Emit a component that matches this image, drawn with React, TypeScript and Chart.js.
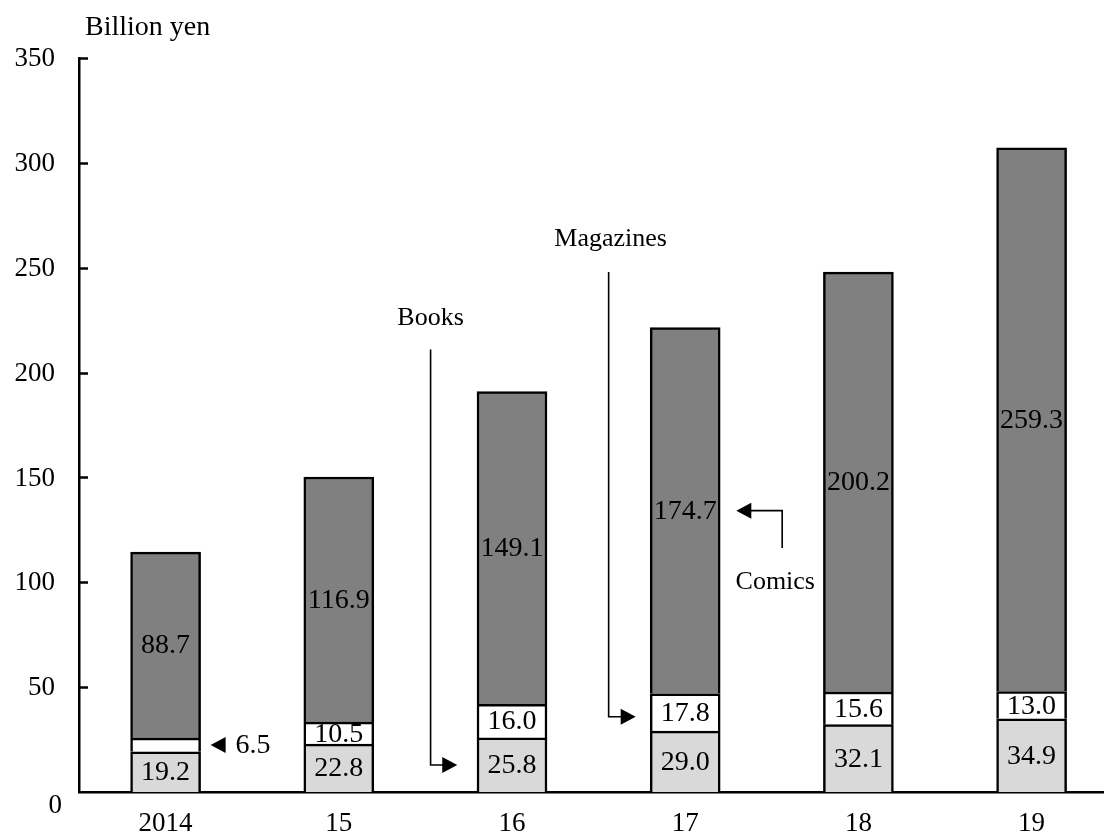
import React, { useEffect, useRef } from "react";
import { Chart, registerables } from "chart.js";

Chart.register(...registerables);

// ---- Data ----
const categories = ["2014", "15", "16", "17", "18", "19"];
const books = [19.2, 22.8, 25.8, 29.0, 32.1, 34.9];
const magazines = [6.5, 10.5, 16.0, 17.8, 15.6, 13.0];
const comics = [88.7, 116.9, 149.1, 174.7, 200.2, 259.3];
const yTickValues = [0, 50, 100, 150, 200, 250, 300, 350];
const unitLabel = "Billion yen";
const seriesNames = ["Books", "Magazines", "Comics"];

const FONT = '"Liberation Serif", "Times New Roman", serif';

function arrowHead(ctx: CanvasRenderingContext2D, tipX: number, tipY: number, dir: number) {
  // dir: 1 => pointing right, -1 => pointing left
  const len = 15;
  const half = 8;
  ctx.beginPath();
  ctx.moveTo(tipX, tipY);
  ctx.lineTo(tipX - dir * len, tipY - half);
  ctx.lineTo(tipX - dir * len, tipY + half);
  ctx.closePath();
  ctx.fill();
}

const decorPlugin = {
  id: "decor",
  afterDatasetsDraw(chart: any) {
    const ctx: CanvasRenderingContext2D = chart.ctx;
    ctx.save();
    ctx.fillStyle = "#000";
    ctx.font = `28px ${FONT}`;
    ctx.textAlign = "center";
    ctx.textBaseline = "middle";
    chart.data.datasets.forEach((ds: any, di: number) => {
      const meta = chart.getDatasetMeta(di);
      meta.data.forEach((el: any, i: number) => {
        if (di === 1 && i === 0) return; // drawn outside with arrow
        const v = ds.data[i].y;
        const cy = (el.y + el.base) / 2;
        ctx.fillText(v.toFixed(1), el.x, cy + 1);
      });
    });
    ctx.restore();
  },
  afterDraw(chart: any) {
    const ctx: CanvasRenderingContext2D = chart.ctx;
    const xs = chart.scales.x;
    const ys = chart.scales.y;
    const area = chart.chartArea;
    ctx.save();
    ctx.strokeStyle = "#000";
    ctx.fillStyle = "#000";

    // y tick marks (inward)
    ctx.lineWidth = 2.5;
    yTickValues.forEach((v) => {
      if (v === 0) return;
      const y = Math.round(ys.getPixelForValue(v)) + 0.5;
      ctx.beginPath();
      ctx.moveTo(area.left, y);
      ctx.lineTo(area.left + 9, y);
      ctx.stroke();
    });

    // y tick labels
    ctx.font = `27px ${FONT}`;
    ctx.textAlign = "right";
    ctx.textBaseline = "middle";
    yTickValues.forEach((v) => {
      const y = ys.getPixelForValue(v);
      if (v === 0) ctx.fillText(String(v), area.left - 17, y + 14);
      else ctx.fillText(String(v), area.left - 24, y + 1);
    });

    // x labels
    ctx.textAlign = "center";
    categories.forEach((c, i) => {
      ctx.fillText(c, xs.getPixelForValue(i), area.bottom + 32);
    });

    // unit label
    ctx.font = `28px ${FONT}`;
    ctx.textAlign = "left";
    ctx.fillText(unitLabel, area.left + 6, 28);

    // Annotations
    ctx.lineWidth = 1.6;

    // 6.5 callout
    const m0 = chart.getDatasetMeta(1).data[0];
    const m0y = (m0.y + m0.base) / 2;
    const m0tip = m0.x + m0.width / 2 + 10;
    arrowHead(ctx, m0tip, m0y, -1);
    ctx.font = `28px ${FONT}`;
    ctx.textAlign = "left";
    ctx.fillText(magazines[0].toFixed(1), m0tip + 25, m0y + 1);

    ctx.font = `26px ${FONT}`;
    ctx.textAlign = "center";

    // Books
    {
      const x = xs.getPixelForValue(1.53);
      const yTop = ys.getPixelForValue(211);
      const yBot = ys.getPixelForValue(books[2] / 2);
      const tip = xs.getPixelForValue(1.684);
      ctx.fillText(seriesNames[0], x, ys.getPixelForValue(226));
      ctx.beginPath();
      ctx.moveTo(x, yTop);
      ctx.lineTo(x, yBot);
      ctx.lineTo(tip - 12, yBot);
      ctx.stroke();
      arrowHead(ctx, tip, yBot, 1);
    }
    // Magazines
    {
      const x = xs.getPixelForValue(2.558);
      const yTop = ys.getPixelForValue(248);
      const yBot = ys.getPixelForValue(books[3] + magazines[3] / 2 - 2);
      const tip = xs.getPixelForValue(2.714);
      ctx.fillText(seriesNames[1], x + 2, ys.getPixelForValue(263.4));
      ctx.beginPath();
      ctx.moveTo(x, yTop);
      ctx.lineTo(x, yBot);
      ctx.lineTo(tip - 12, yBot);
      ctx.stroke();
      arrowHead(ctx, tip, yBot, 1);
    }
    // Comics
    {
      const x = xs.getPixelForValue(3.56);
      const yBot = ys.getPixelForValue(116.4);
      const yMid = ys.getPixelForValue(books[3] + magazines[3] + comics[3] / 2);
      const tip = xs.getPixelForValue(3.295);
      ctx.fillText(seriesNames[2], xs.getPixelForValue(3.52), ys.getPixelForValue(100));
      ctx.beginPath();
      ctx.moveTo(x, yBot);
      ctx.lineTo(x, yMid);
      ctx.lineTo(tip + 12, yMid);
      ctx.stroke();
      arrowHead(ctx, tip, yMid, -1);
    }

    ctx.restore();
  },
};

export default function App() {
  const canvasRef = useRef<HTMLCanvasElement | null>(null);

  useEffect(() => {
    if (!canvasRef.current) return;
    const toPts = (arr: number[]) => arr.map((v, i) => ({ x: i, y: v }));
    const common = { borderColor: "#000", borderWidth: 2.5, barThickness: 70 };
    const chart = new Chart(canvasRef.current, {
      type: "bar",
      data: {
        datasets: [
          { label: seriesNames[0], data: toPts(books), backgroundColor: "#d9d9d9", ...common },
          { label: seriesNames[1], data: toPts(magazines), backgroundColor: "#ffffff", ...common },
          { label: seriesNames[2], data: toPts(comics), backgroundColor: "#808080", ...common },
        ] as any,
      },
      options: {
        animation: false,
        responsive: true,
        maintainAspectRatio: false,
        layout: { padding: { left: 79, top: 58, right: 0, bottom: 45 } },
        plugins: {
          legend: { display: false },
          tooltip: { enabled: false },
        },
        scales: {
          x: {
            type: "linear",
            min: -0.5,
            max: 5.418,
            stacked: true,
            offset: false,
            grid: { display: false, drawTicks: false, tickLength: 0 },
            border: { display: true, color: "#000", width: 2.5 },
            ticks: { display: false },
          },
          y: {
            type: "linear",
            min: 0,
            max: 350,
            stacked: true,
            grid: { display: false, drawTicks: false, tickLength: 0 },
            border: { display: true, color: "#000", width: 2.5 },
            ticks: { display: false, stepSize: 50 },
          },
        },
      } as any,
      plugins: [decorPlugin],
    });
    return () => chart.destroy();
  }, []);

  return (
    <div style={{ position: "absolute", left: 0, top: 0, width: 1104, height: 837, background: "#fff" }}>
      <canvas ref={canvasRef} />
    </div>
  );
}
